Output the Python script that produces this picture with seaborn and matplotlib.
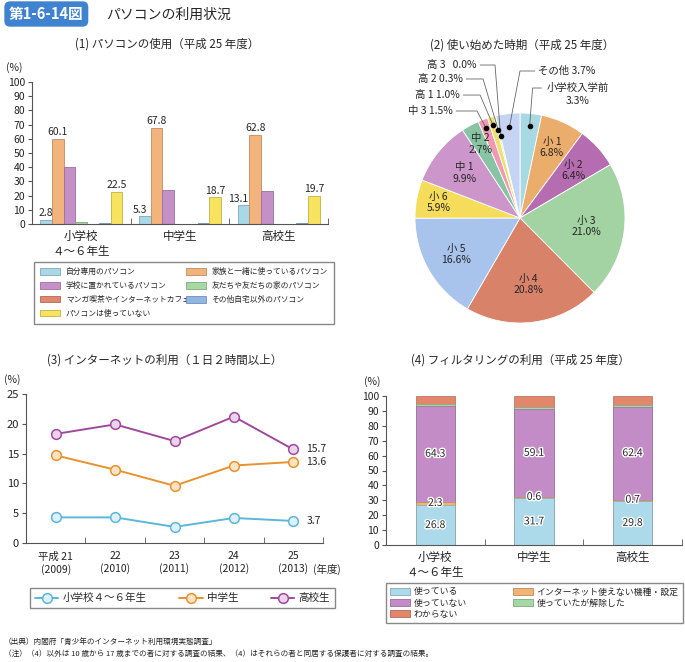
import matplotlib
matplotlib.use("Agg")  # headless rendering
import matplotlib.pyplot as plt
import matplotlib.colors as mcolors
import matplotlib.patheffects as pe
from matplotlib.patches import Patch
import seaborn as sns
import pandas as pd
import numpy as np

W, H = 685, 662

# (1) パソコンの使用（平成25年度）
pc_groups = ["小学校\n４～６年生", "中学生", "高校生"]
pc_types = ["自分専用のパソコン", "家族と一緒に使っているパソコン", "学校に置かれているパソコン",
            "友だちや友だちの家のパソコン", "マンガ喫茶やインターネットカフェ",
            "その他自宅以外のパソコン", "パソコンは使っていない"]
pc_elem = [2.8, 60.1, 40.4, 1.6, 0.1, 1.0, 22.5]
pc_jhs = [5.3, 67.8, 24.1, 0.2, 0.2, 0.5, 18.7]
pc_hs = [13.1, 62.8, 23.4, 0.3, 0.3, 0.7, 19.7]
pc_colors = ["#a9d8ea", "#f2b47c", "#c58fc8", "#a6d8a4", "#e2866e", "#90b6e6", "#f8e35e"]
pc_labeled_types = [0, 1, 6]

# (2) 使い始めた時期（平成25年度）
start_labels = ["小学校入学前", "小 1", "小 2", "小 3", "小 4", "小 5", "小 6",
                "中 1", "中 2", "中 3", "高 1", "高 2", "高 3", "その他"]
start_values = [3.3, 6.8, 6.4, 21.0, 20.8, 16.6, 5.9, 9.9, 2.7, 1.5, 1.0, 0.3, 0.0, 3.7]
start_colors = ["#a8d8e2", "#eaad6c", "#b66cb0", "#a3d3a3", "#d9826a", "#a8c4ec",
                "#f5dc5a", "#cc96ca", "#88c4a4", "#ee9ab4", "#ece070", "#c8e07a",
                "#f0f0a0", "#c4d4f2"]

# (3) インターネットの利用（１日２時間以上）
net_years = ["平成 21\n(2009)", "22\n(2010)", "23\n(2011)", "24\n(2012)", "25\n(2013)"]
net_names = ["小学校４～６年生", "中学生", "高校生"]
net_elem = [4.3, 4.3, 2.7, 4.2, 3.7]
net_jhs = [14.7, 12.3, 9.6, 13.0, 13.6]
net_hs = [18.3, 19.9, 17.1, 21.2, 15.7]
net_colors = ["#5cb6da", "#e8922e", "#9e4a9c"]
net_faces = ["#dff1f8", "#fce3c6", "#ecd2ea"]

# (4) フィルタリングの利用（平成25年度）
flt_types = ["使っている", "インターネット使えない機種・設定", "使っていない",
             "使っていたが解除した", "わからない"]
flt_using = [26.8, 31.7, 29.8]
flt_nonet = [2.3, 0.6, 0.7]
flt_notusing = [64.3, 59.1, 62.4]
flt_removed = [1.0, 1.1, 0.8]
flt_unknown = [5.6, 7.5, 6.3]
flt_colors = ["#acdaea", "#f2b474", "#c48cc6", "#a6d8a4", "#e2866c"]

sns.set_style("white")
plt.rcParams["font.family"] = ["Noto Sans CJK JP", "DejaVu Sans"]
plt.rcParams["axes.edgecolor"] = "#555555"
plt.rcParams["axes.linewidth"] = 0.8

fig = plt.figure(figsize=(W / 100, H / 100), dpi=100)


def panel(x0, y0, x1, y1):
    return fig.add_axes([x0 / W, 1 - y1 / H, (x1 - x0) / W, (y1 - y0) / H])


def darker(c, f=0.78):
    r, g, b = mcolors.to_rgb(c)
    return (r * f, g * f, b * f)


def style_axis(ax, ymax, step, ncat):
    ax.set_ylim(0, ymax)
    ax.set_yticks(np.arange(0, ymax + 0.1, step))
    ax.set_xlim(-0.5, ncat - 0.5)
    ax.set_xticks(np.arange(ncat) + 0.5, minor=True)
    ax.tick_params(axis="x", which="major", length=0, labelsize=8.3, pad=4, colors="#222222")
    ax.tick_params(axis="x", which="minor", direction="in", length=4, color="#555555")
    ax.tick_params(axis="y", direction="out", length=3, labelsize=7.5, pad=2,
                   color="#555555", labelcolor="#222222")
    ax.tick_params(bottom=True, left=True, which="both")
    sns.despine(ax=ax)
    ax.set_xlabel("")
    ax.set_ylabel("")


# header
fig.text(9 / W, 1 - 14 / H, "第1-6-14図", color="white", fontsize=10.5, fontweight="bold",
         va="center", ha="left",
         bbox=dict(boxstyle="round,pad=0.32,rounding_size=0.4", fc="#3f82cf", ec="none"))
fig.text(106 / W, 1 - 15 / H, "パソコンの利用状況", fontsize=10, va="center", ha="left")

# ---- (1) bars
fig.text(167 / W, 1 - 44 / H, "(1) パソコンの使用（平成 25 年度）", fontsize=8.3, ha="center", va="center")
ax1 = panel(32, 82, 328, 224)
df1 = pd.DataFrame({
    "group": np.repeat(pc_groups, len(pc_types)),
    "type": pc_types * 3,
    "value": pc_elem + pc_jhs + pc_hs,
})
sns.barplot(data=df1, x="group", y="value", hue="type", hue_order=pc_types,
            order=pc_groups, palette=pc_colors, width=0.83, saturation=1,
            errorbar=None, legend=False, ax=ax1, linewidth=0.6)
for p in ax1.patches:
    p.set_edgecolor(darker(p.get_facecolor()))
style_axis(ax1, 100, 10, 3)
ax1.text(-0.06, 1.065, "(%)", transform=ax1.transAxes, fontsize=7.5, ha="center", va="bottom")
for t in pc_labeled_types:
    for g, vals in enumerate([pc_elem, pc_jhs, pc_hs]):
        bar = ax1.patches[t * 3 + g]
        cx = bar.get_x() + bar.get_width() / 2
        if t == 0 and g > 0:
            cx -= 0.05
        ax1.text(cx, vals[t] + 1.2, f"{vals[t]:.1f}", ha="center", va="bottom", fontsize=7.5)

h1 = [Patch(facecolor=pc_colors[i], edgecolor=darker(pc_colors[i]), linewidth=0.6) for i in range(7)]
order1 = [0, 2, 4, 6, 1, 3, 5]
fig.legend([h1[i] for i in order1], [pc_types[i] for i in order1], loc="upper left",
           bbox_to_anchor=(30 / W, 1 - 324 / H, 308 / W, 66 / H), mode="expand", ncol=2,
           fontsize=5.6, frameon=True, fancybox=False, edgecolor="#888888", framealpha=1,
           handlelength=2.6, handleheight=0.9, labelspacing=0.75, borderpad=0.8,
           handletextpad=0.7)

# ---- (2) pie
fig.text(522 / W, 1 - 45 / H, "(2) 使い始めた時期（平成 25 年度）", fontsize=8.3, ha="center", va="center")
ax2 = panel(355, 53, 685, 383)
wedges, _ = ax2.pie(start_values, colors=start_colors, startangle=90, counterclock=False,
                    radius=1, wedgeprops=dict(edgecolor="white", linewidth=0.6))
lim = 165 / 105
ax2.set_xlim(-lim, lim)
ax2.set_ylim(-lim, lim)
ax2.set_aspect("equal")
ax2.axis("off")


def mid_xy(w, r):
    a = np.deg2rad((w.theta1 + w.theta2) / 2)
    return r * np.cos(a), r * np.sin(a)


inner_r = {1: 0.74, 2: 0.68, 3: 0.64, 4: 0.64, 5: 0.7, 6: 0.79, 7: 0.68, 8: 0.8}
for i, r in inner_r.items():
    x, y = mid_xy(wedges[i], r)
    ax2.text(x, y, f"{start_labels[i]}\n{start_values[i]:.1f}%", ha="center", va="center",
             fontsize=7.5, linespacing=1.15)

# small slices: label, text anchor, elbow x, dot radius
outer = [
    (12, "高 3   0.0%", -0.41, 1.457, -0.238, 0.80, "right"),
    (11, "高 2 0.3%", -0.543, 1.324, -0.352, 0.86, "right"),
    (10, "高 1 1.0%", -0.571, 1.171, -0.38, 0.92, "right"),
    (9, "中 3 1.5%", -0.638, 1.019, -0.41, 0.92, "right"),
    (13, "その他 3.7%", 0.171, 1.40, 0.0, 0.87, "left"),
    (0, "小学校入学前", 0.21, 1.238, 0.12, 0.88, "left"),
]
for i, txt, tx, ty, ex, r, ha in outer:
    dx, dy = mid_xy(wedges[i], r)
    if i == 0:
        ax2.text(0.552, ty, txt, ha="center", va="center", fontsize=7.5)
        ax2.text(0.552, ty - 0.124, f"{start_values[0]:.1f}%", ha="center", va="center", fontsize=7.5)
        sx = 0.205
    else:
        ax2.text(tx, ty, txt, ha=ha, va="center", fontsize=7.5)
        sx = tx + 0.03 if ha == "right" else tx - 0.03
    ax2.plot([sx, ex, dx], [ty, ty, dy], color="#666666", lw=0.6)
    ax2.plot(dx, dy, "o", color="black", ms=3)

# ---- (3) lines
fig.text(165 / W, 1 - 360 / H, "(3) インターネットの利用（１日２時間以上）", fontsize=8.3, ha="center", va="center")
ax3 = panel(26, 394, 323, 543)
for vals, name, col, face in zip([net_elem, net_jhs, net_hs], net_names, net_colors, net_faces):
    sns.lineplot(x=list(range(len(vals))), y=vals, color=col, marker="o", markersize=7,
                 markerfacecolor=face, markeredgecolor=col, markeredgewidth=1.1,
                 linewidth=1.4, label=name, ax=ax3)
style_axis(ax3, 25, 5, 5)
ax3.set_xticks(range(5))
ax3.set_xticklabels(net_years, fontsize=7.5, linespacing=1.25)
ax3.tick_params(axis="x", which="major", pad=6)
ax3.tick_params(axis="y", labelsize=8)
ax3.text(-0.045, 1.06, "(%)", transform=ax3.transAxes, fontsize=7.5, ha="center", va="bottom")
for vals in [net_elem, net_jhs, net_hs]:
    ax3.text(4.22, vals[-1], f"{vals[-1]:.1f}", ha="left", va="center", fontsize=7.5)
ax3.text(4.33, -0.175, "(年度)", transform=ax3.get_xaxis_transform(), ha="left", va="center", fontsize=7.5)
h3, l3 = ax3.get_legend_handles_labels()
if ax3.get_legend() is not None:
    ax3.get_legend().remove()
fig.legend(h3, l3, loc="upper left", bbox_to_anchor=(25 / W, 1 - 608 / H, 315 / W, 25 / H),
           mode="expand", ncol=3, fontsize=7.6, frameon=True, fancybox=False,
           edgecolor="#888888", framealpha=1, handlelength=2.2, handletextpad=0.4,
           borderpad=0.45)

# ---- (4) stacked bars
fig.text(520 / W, 1 - 360 / H, "(4) フィルタリングの利用（平成 25 年度）", fontsize=8.3, ha="center", va="center")
ax4 = panel(386, 396, 682, 545)
layers = [flt_using, flt_nonet, flt_notusing, flt_removed, flt_unknown]
cum = np.cumsum(layers, axis=0)
for i in reversed(range(len(layers))):
    sns.barplot(x=pc_groups, y=cum[i], order=pc_groups, color=flt_colors[i], width=0.4,
                saturation=1, errorbar=None, ax=ax4, edgecolor=darker(flt_colors[i]), linewidth=0.5)
style_axis(ax4, 100, 10, 3)
ax4.text(-0.045, 1.06, "(%)", transform=ax4.transAxes, fontsize=7.5, ha="center", va="bottom")
halo = [pe.withStroke(linewidth=2, foreground="white")]
for li in [0, 1, 2]:
    for g in range(3):
        y = cum[li][g] - layers[li][g] / 2
        if li == 1:
            y = cum[li][g] - layers[li][g] / 2 + 0.3
        ax4.text(g, y, f"{layers[li][g]:.1f}", ha="center", va="center", fontsize=7.5,
                 path_effects=halo)
h4 = [Patch(facecolor=c, edgecolor=darker(c), linewidth=0.6) for c in flt_colors]
order4 = [0, 2, 4, 1, 3]
fig.legend([h4[i] for i in order4], [flt_types[i] for i in order4], loc="upper left",
           bbox_to_anchor=(386 / W, 1 - 623 / H, 297 / W, 40 / H), mode="expand", ncol=2,
           fontsize=6.4, frameon=True, fancybox=False, edgecolor="#888888", framealpha=1,
           handlelength=2.2, handleheight=0.8, labelspacing=0.25, borderpad=0.5,
           handletextpad=0.4, borderaxespad=0)

# footnotes
fig.text(4 / W, 1 - 642 / H, "（出典）内閣府「青少年のインターネット利用環境実態調査」",
         fontsize=5.5, va="center", color="#222222")
fig.text(4 / W, 1 - 654 / H,
         "（注）（4）以外は 10 歳から 17 歳までの者に対する調査の結果、（4）はそれらの者と同居する保護者に対する調査の結果。",
         fontsize=5.5, va="center", color="#222222")

fig.savefig("out.png", dpi=100)
